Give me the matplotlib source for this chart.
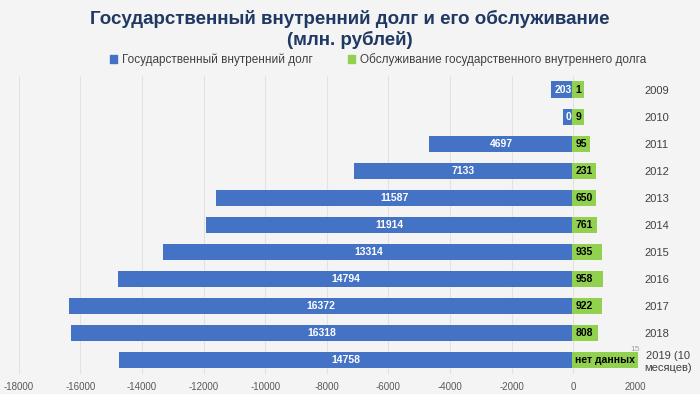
import matplotlib
matplotlib.use("Agg")
import matplotlib.pyplot as plt
from matplotlib.patches import Patch

plt.rcParams['font.family'] = ['Liberation Sans Narrow', 'Liberation Sans', 'DejaVu Sans']

years = ['2009', '2010', '2011', '2012', '2013', '2014', '2015', '2016',
         '2017', '2018', '2019 (10\nмесяцев)']
debt = [203, 0, 4697, 7133, 11587, 11914, 13314, 14794, 16372, 16318, 14758]
service = [1, 9, 95, 231, 650, 761, 935, 958, 922, 808, None]

blue = '#4472c4'
green = '#92d050'
bg = '#f4f4f4'

fig = plt.figure(figsize=(7, 3.94), dpi=100, facecolor=bg)
ax = fig.add_axes([0.027, 0.051, 0.88, 0.756], facecolor=bg)

y = list(range(len(years)))
ax.barh(y, [-d for d in debt], height=0.6, color=blue, zorder=2)
ax.barh(y, [s if s is not None else 0 for s in service], height=0.6, color=green, zorder=2)

for i, d in enumerate(debt):
    if d < 1000:
        ax.text(-60, i, str(d), ha='right', va='center', color='white', fontsize=7.5,
                fontweight='bold', zorder=3,
                bbox=dict(boxstyle='square,pad=0.3', fc=blue, ec='none'))
    else:
        ax.text(-d / 2, i, str(d), ha='center', va='center', color='white',
                fontsize=7.5, fontweight='bold', zorder=3)

for i, s in enumerate(service):
    label = str(s) if s is not None else 'нет данных'
    ax.text(70, i, label, ha='left', va='center', color='black', fontsize=7.5,
            fontweight='bold', zorder=3,
            bbox=dict(boxstyle='square,pad=0.3', fc=green, ec='none'))

ax.set_xlim(-18000, 2000)
ax.set_ylim(len(years) - 0.5, -0.5)
ax.set_xticks(range(-18000, 2001, 2000))
ax.set_xticklabels([str(t) for t in range(-18000, 2001, 2000)])
ax.tick_params(axis='x', length=0, labelsize=7, colors='#595959', pad=6)
ax.yaxis.tick_right()
ax.set_yticks(y)
ax.set_yticklabels(years, ha='left', multialignment='center')
ax.tick_params(axis='y', length=0, labelsize=8, colors='#404040', pad=7)
ax.grid(axis='x', color='#e2e2e2', linewidth=0.8, zorder=0)
for sp in ax.spines.values():
    sp.set_visible(False)

fig.text(0.5, 0.952, 'Государственный внутренний долг и его обслуживание',
         ha='center', va='center', fontsize=13.5, fontweight='bold', color='#1f3864')
fig.text(0.5, 0.898, '(млн. рублей)', ha='center', va='center', fontsize=13.5,
         fontweight='bold', color='#1f3864')

handles = [Patch(color=blue, label='Государственный внутренний долг'),
           Patch(color=green, label='Обслуживание государственного внутреннего долга')]
fig.legend(handles=handles, loc='center', bbox_to_anchor=(0.54, 0.848), ncol=2,
           frameon=False, fontsize=8.5, handlelength=0.6, handleheight=0.6,
           columnspacing=3, handletextpad=0.4, labelcolor='#404040')

fig.text(0.9, 0.11, '15', fontsize=6, color='#a0a0a0')

fig.savefig('out.png', dpi=100, facecolor=bg)
